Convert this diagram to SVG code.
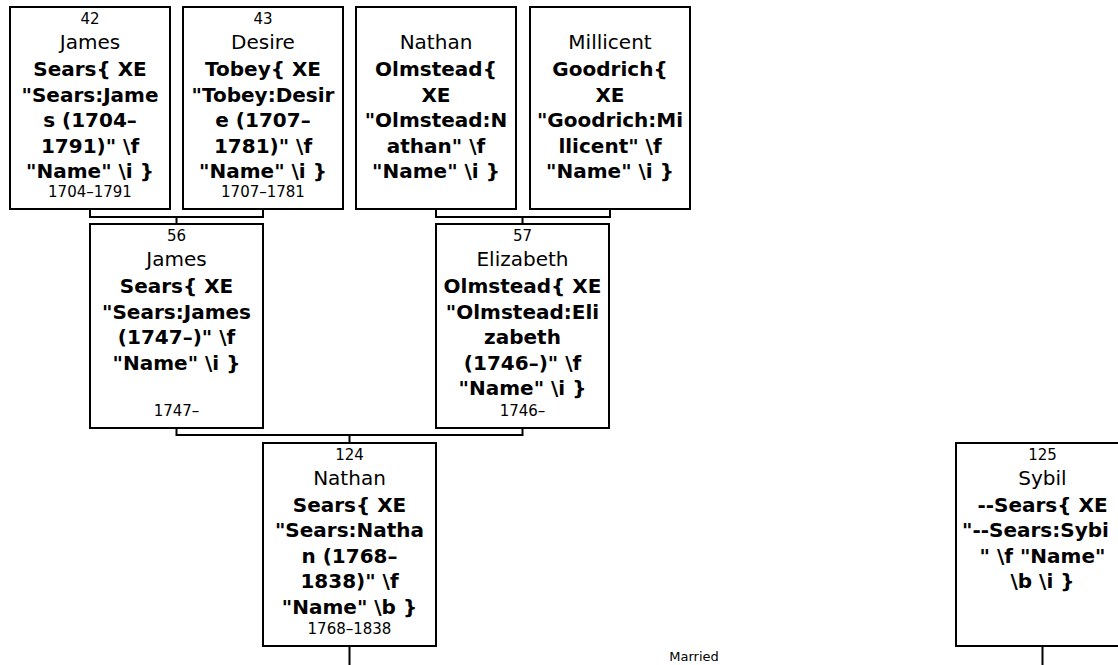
<svg xmlns="http://www.w3.org/2000/svg" width="1118" height="665" viewBox="0 0 1118 665">
<style>
.box{fill:#fff;stroke:#000;stroke-width:2}
.conn{fill:none;stroke:#000;stroke-width:2}
text{font-family:"DejaVu Sans","Verdana",sans-serif;fill:#000;text-anchor:middle}
.num{font-size:15px}
.given{font-size:20px}
.sur{font-size:20px;font-weight:bold}
.date{font-size:15px}
.lbl{font-size:13px}
</style>
<rect x="0" y="0" width="1118" height="665" fill="#fff"/>
<g id="connectors">
<path class="conn" d="M90 209 V217 H263 V209 M176.5 217 V224"/>
<path class="conn" d="M436 209 V217 H610 V209 M522.5 217 V224"/>
<path class="conn" d="M176.5 428 V435 H522.5 V428 M349.5 435 V443"/>
<path class="conn" d="M349.5 646 V665"/>
<path class="conn" d="M1042.5 646 V665"/>
<text class="lbl" x="694" y="661">Married</text>
</g>
<g id="n42">
<rect class="box" x="10" y="7" width="160" height="202"/>
<text class="num" x="90" y="24">42</text>
<text class="given" x="90" y="49">James</text>
<text class="sur" x="90" y="76">Sears{ XE</text>
<text class="sur" x="90" y="102">"Sears:Jame</text>
<text class="sur" x="90" y="127">s (1704–</text>
<text class="sur" x="90" y="153">1791)" \f</text>
<text class="sur" x="90" y="178">"Name" \i }</text>
<text class="date" x="90" y="197">1704–1791</text>
</g>
<g id="n43">
<rect class="box" x="183" y="7" width="160" height="202"/>
<text class="num" x="263" y="24">43</text>
<text class="given" x="263" y="49">Desire</text>
<text class="sur" x="263" y="76">Tobey{ XE</text>
<text class="sur" x="263" y="102">"Tobey:Desir</text>
<text class="sur" x="263" y="127">e (1707–</text>
<text class="sur" x="263" y="153">1781)" \f</text>
<text class="sur" x="263" y="178">"Name" \i }</text>
<text class="date" x="263" y="197">1707–1781</text>
</g>
<g id="nNathanOlmstead">
<rect class="box" x="356" y="7" width="160" height="202"/>
<text class="given" x="436" y="49">Nathan</text>
<text class="sur" x="436" y="76">Olmstead{</text>
<text class="sur" x="436" y="102">XE</text>
<text class="sur" x="436" y="127">"Olmstead:N</text>
<text class="sur" x="436" y="153">athan" \f</text>
<text class="sur" x="436" y="178">"Name" \i }</text>
</g>
<g id="nMillicentGoodrich">
<rect class="box" x="530" y="7" width="160" height="202"/>
<text class="given" x="610" y="49">Millicent</text>
<text class="sur" x="610" y="76">Goodrich{</text>
<text class="sur" x="610" y="102">XE</text>
<text class="sur" x="610" y="127">"Goodrich:Mi</text>
<text class="sur" x="610" y="153">llicent" \f</text>
<text class="sur" x="610" y="178">"Name" \i }</text>
</g>
<g id="n56">
<rect class="box" x="90" y="224" width="173" height="204"/>
<text class="num" x="176.5" y="241">56</text>
<text class="given" x="176.5" y="266">James</text>
<text class="sur" x="176.5" y="293">Sears{ XE</text>
<text class="sur" x="176.5" y="319">"Sears:James</text>
<text class="sur" x="176.5" y="344">(1747–)" \f</text>
<text class="sur" x="176.5" y="370">"Name" \i }</text>
<text class="date" x="176.5" y="416">1747–</text>
</g>
<g id="n57">
<rect class="box" x="436" y="224" width="173" height="204"/>
<text class="num" x="522.5" y="241">57</text>
<text class="given" x="522.5" y="266">Elizabeth</text>
<text class="sur" x="522.5" y="293">Olmstead{ XE</text>
<text class="sur" x="522.5" y="319">"Olmstead:Eli</text>
<text class="sur" x="522.5" y="344">zabeth</text>
<text class="sur" x="522.5" y="370">(1746–)" \f</text>
<text class="sur" x="522.5" y="395">"Name" \i }</text>
<text class="date" x="522.5" y="416">1746–</text>
</g>
<g id="n124">
<rect class="box" x="263" y="443" width="173" height="203"/>
<text class="num" x="349.5" y="460">124</text>
<text class="given" x="349.5" y="485">Nathan</text>
<text class="sur" x="349.5" y="512">Sears{ XE</text>
<text class="sur" x="349.5" y="537">"Sears:Natha</text>
<text class="sur" x="349.5" y="563">n (1768–</text>
<text class="sur" x="349.5" y="588">1838)" \f</text>
<text class="sur" x="349.5" y="614">"Name" \b }</text>
<text class="date" x="349.5" y="634">1768–1838</text>
</g>
<g id="n125">
<rect class="box" x="956" y="443" width="173" height="203"/>
<text class="num" x="1042.5" y="460">125</text>
<text class="given" x="1042.5" y="485">Sybil</text>
<text class="sur" x="1042.5" y="512">--Sears{ XE</text>
<text class="sur" x="962" y="537" style="text-anchor:start">"--Sears:Sybi</text>
<text class="sur" x="1042.5" y="563">" \f "Name"</text>
<text class="sur" x="1042.5" y="588">\b \i }</text>
</g>
</svg>
